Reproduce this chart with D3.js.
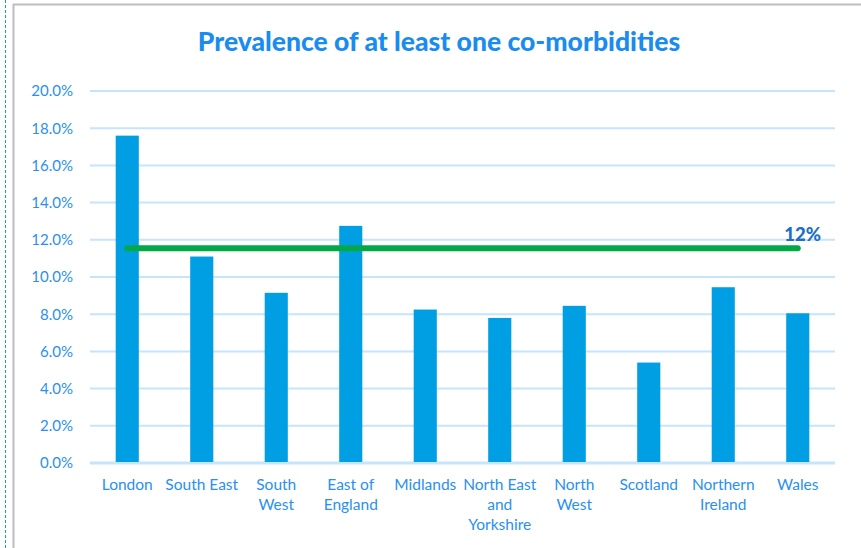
<!DOCTYPE html>
<html>
<head>
    <style>
        body { margin: 0; background: #fff; }
        text { font-family: Lato, "Open Sans", sans-serif; }
    </style>
    <script src="https://d3js.org/d3.v7.min.js"></script>
</head>
<body>
    <div id="chart"></div>
    <script>
        const regions = ["London", "South East", "South West", "East of England", "Midlands",
            "North East and Yorkshire", "North West", "Scotland", "Northern Ireland", "Wales"];
        const labelLines = [["London"], ["South East"], ["South", "West"], ["East of", "England"], ["Midlands"],
            ["North East", "and", "Yorkshire"], ["North", "West"], ["Scotland"], ["Northern", "Ireland"], ["Wales"]];
        const prevalence = [17.6, 11.1, 9.15, 12.75, 8.25, 7.8, 8.45, 5.4, 9.45, 8.05];
        const average = 11.55;
        const averageLabel = "12%";
        const yTicks = [0, 2, 4, 6, 8, 10, 12, 14, 16, 18, 20];

        const width = 861, height = 548;
        const margin = { left: 90, right: 26, top: 91, bottom: 85 };

        const svg = d3.select("#chart").append("svg")
            .attr("width", width)
            .attr("height", height);

        // frame bits around the chart area
        svg.append("line").attr("x1", 5.5).attr("x2", 5.5).attr("y1", 0).attr("y2", height)
            .attr("stroke", "#0f9be6").attr("stroke-width", 1).attr("stroke-dasharray", "3,2");
        svg.append("line").attr("x1", 13.5).attr("x2", 13.5).attr("y1", 4).attr("y2", height)
            .attr("stroke", "#bdbdbd").attr("stroke-width", 2);
        svg.append("line").attr("x1", 13).attr("x2", width).attr("y1", 4.5).attr("y2", 4.5)
            .attr("stroke", "#bdbdbd").attr("stroke-width", 2);

        const x = d3.scaleBand()
            .domain(regions)
            .range([margin.left, width - margin.right])
            .paddingInner(0.69)
            .paddingOuter(0.345);

        const y = d3.scaleLinear()
            .domain([0, 20])
            .range([height - margin.bottom, margin.top]);

        // gridlines
        svg.append("g")
            .selectAll("line")
            .data(yTicks)
            .join("line")
            .attr("x1", margin.left)
            .attr("x2", width - margin.right)
            .attr("y1", d => y(d))
            .attr("y2", d => y(d))
            .attr("stroke", "#c6e4fb")
            .attr("stroke-width", d => d === 0 ? 3 : 2);

        // y axis labels
        const yAxis = d3.axisLeft(y)
            .tickValues(yTicks)
            .tickFormat(d => d.toFixed(1) + "%")
            .tickSize(0)
            .tickPadding(17);

        svg.append("g")
            .attr("transform", `translate(${margin.left},0)`)
            .call(yAxis)
            .call(g => g.select(".domain").remove())
            .selectAll("text")
            .attr("fill", "#2a8ff0")
            .style("font-size", "15px")
            .style("font-family", "Lato, sans-serif");

        // bars
        svg.append("g")
            .selectAll("rect")
            .data(regions)
            .join("rect")
            .attr("x", d => x(d))
            .attr("y", (d, i) => y(prevalence[i]))
            .attr("width", x.bandwidth())
            .attr("height", (d, i) => y(0) - y(prevalence[i]) - 1)
            .attr("fill", "#009fe3");

        // average line
        const xs = regions.map(r => x(r) + x.bandwidth() / 2);
        svg.append("line")
            .attr("x1", xs[0])
            .attr("x2", xs[xs.length - 1])
            .attr("y1", y(average))
            .attr("y2", y(average))
            .attr("stroke", "#00a846")
            .attr("stroke-width", 6)
            .attr("stroke-linecap", "round");

        svg.append("text")
            .attr("x", xs[xs.length - 1] + 5)
            .attr("y", y(average) - 7)
            .attr("text-anchor", "middle")
            .attr("fill", "#1d6fc4")
            .style("font-size", "18.5px")
            .style("font-weight", "900")
            .text(averageLabel);

        // category labels
        const cat = svg.append("g")
            .selectAll("text")
            .data(regions)
            .join("text")
            .attr("x", d => x(d) + x.bandwidth() / 2)
            .attr("y", y(0) + 27)
            .attr("text-anchor", "middle")
            .attr("fill", "#2a8ff0")
            .style("font-size", "15.5px");
        cat.selectAll("tspan")
            .data((d, i) => labelLines[i])
            .join("tspan")
            .attr("x", function() { return this.parentNode.getAttribute("x"); })
            .attr("dy", (d, i) => i === 0 ? 0 : 20)
            .text(d => d);

        // title
        svg.append("text")
            .attr("x", 439)
            .attr("y", 51)
            .attr("text-anchor", "middle")
            .attr("fill", "#1a8cf0")
            .style("font-size", "26.5px")
            .style("font-weight", "900")
            .text("Prevalence of at least one co-morbidities");
    </script>
</body>
</html>
